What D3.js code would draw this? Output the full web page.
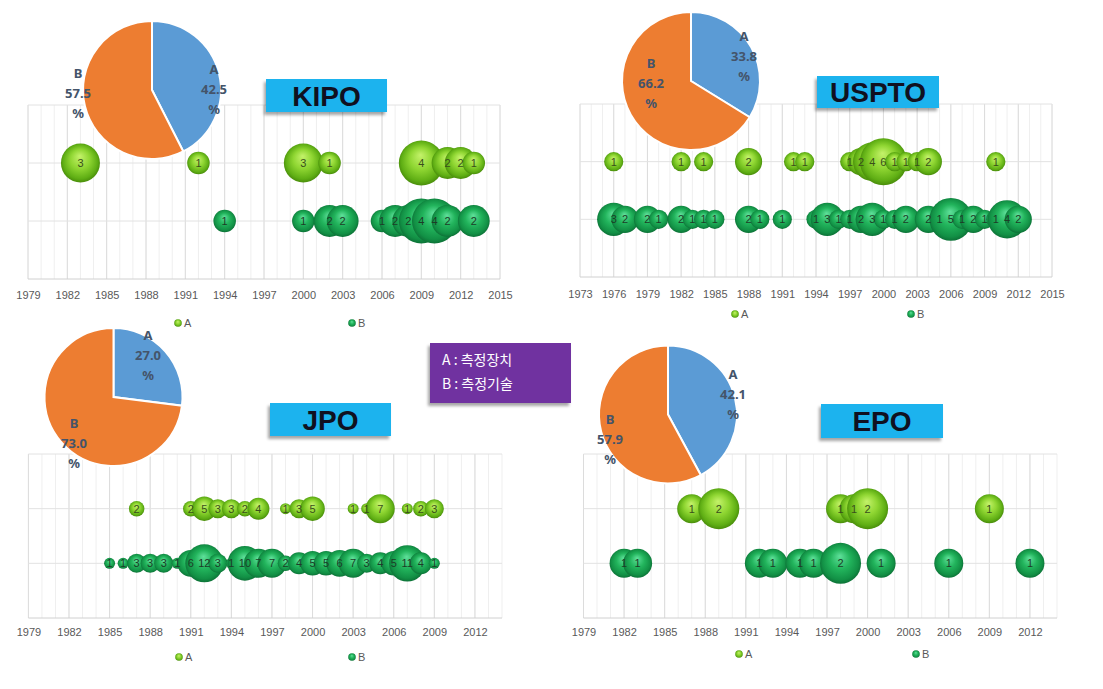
<!DOCTYPE html>
<html>
<head>
<meta charset="utf-8">
<script src="https://cdn.jsdelivr.net/npm/d3@7"></script>
<style>
  body { margin: 0; background: #fff; }
  svg { display: block; }
</style>
</head>
<body>
<script>
// office names and pie shares (%)
var offices = ["KIPO", "USPTO", "JPO", "EPO"];
var pieShareA = [42.5, 33.8, 27.0, 42.1];
var pieShareB = [57.5, 66.2, 73.0, 57.9];

// bubble data: years and counts per series
var kipoYearsA = [1983, 1992, 2000, 2002, 2009, 2011, 2012, 2013];
var kipoValuesA = [3, 1, 3, 1, 4, 2, 2, 1];
var kipoYearsB = [1994, 2000, 2002, 2003, 2006, 2007, 2008, 2009, 2010, 2011, 2013];
var kipoValuesB = [1, 1, 2, 2, 1, 2, 2, 4, 4, 2, 2];

var usptoYearsA = [1976, 1982, 1984, 1988, 1992, 1993, 1997, 1998, 1999, 2000, 2001, 2002, 2003, 2004, 2010];
var usptoValuesA = [1, 1, 1, 2, 1, 1, 1, 2, 4, 6, 1, 1, 1, 2, 1];
var usptoYearsB = [1976, 1977, 1979, 1980, 1982, 1983, 1984, 1985, 1988, 1989, 1991, 1994, 1995, 1996, 1997,
                   1998, 1999, 2000, 2001, 2002, 2004, 2005, 2006, 2007, 2008, 2009, 2010, 2011, 2012];
var usptoValuesB = [3, 2, 2, 1, 2, 1, 1, 1, 2, 1, 1, 1, 3, 1, 1, 2, 3, 1, 1, 2, 2, 1, 5, 1, 2, 1, 1, 4, 2];

var jpoYearsA = [1987, 1991, 1992, 1993, 1994, 1995, 1996, 1998, 1999, 2000, 2003, 2004, 2005, 2007, 2008, 2009];
var jpoValuesA = [2, 2, 5, 3, 3, 2, 4, 1, 3, 5, 1, 1, 7, 1, 2, 3];
var jpoYearsB = [1985, 1986, 1987, 1988, 1989, 1990, 1991, 1992, 1993, 1994, 1995, 1996, 1997,
                 1998, 1999, 2000, 2001, 2002, 2003, 2004, 2005, 2006, 2007, 2008, 2009];
var jpoValuesB = [1, 1, 3, 3, 3, 1, 6, 12, 3, 1, 10, 7, 7, 2, 4, 5, 5, 6, 7, 3, 4, 5, 11, 4, 1];

var epoYearsA = [1987, 1989, 1998, 1999, 2000, 2009];
var epoValuesA = [1, 2, 1, 1, 2, 1];
var epoYearsB = [1982, 1983, 1992, 1993, 1995, 1996, 1998, 2001, 2006, 2012];
var epoValuesB = [1, 1, 1, 1, 1, 1, 2, 1, 1, 1];

// x-axis tick labels
var ticks1979to2015 = [1979, 1982, 1985, 1988, 1991, 1994, 1997, 2000, 2003, 2006, 2009, 2012, 2015];
var ticks1973to2015 = [1973, 1976, 1979, 1982, 1985, 1988, 1991, 1994, 1997, 2000, 2003, 2006, 2009, 2012, 2015];
var ticks1979to2012 = [1979, 1982, 1985, 1988, 1991, 1994, 1997, 2000, 2003, 2006, 2009, 2012];

// layout of each panel
var panels = [
  { x0: 28, x1: 500, min: 1979, max: 2015, top: 105, bottom: 279, tickY: 297, legY: 323, legA: 178, legB: 352, rmax: 22.5,
    ticks: ticks1979to2015, yearsA: kipoYearsA, valsA: kipoValuesA, yearsB: kipoYearsB, valsB: kipoValuesB,
    pie: [152, 90], labA: [62, -1], labB: [-74, 3], box: [266, 79, 121, 33] },
  { x0: 580, x1: 1052, min: 1973, max: 2015, top: 104, bottom: 277, tickY: 296, legY: 314, legA: 735, legB: 911, rmax: 23.5,
    ticks: ticks1973to2015, yearsA: usptoYearsA, valsA: usptoValuesA, yearsB: usptoYearsB, valsB: usptoValuesB,
    pie: [691, 81], labA: [53, -25], labB: [-40, 2], box: [817, 76, 122, 32] },
  { x0: 28.4, x1: 502, min: 1979, max: 2014, top: 454, bottom: 618, tickY: 634, legY: 657, legA: 179, legB: 352, rmax: 19,
    ticks: ticks1979to2012, yearsA: jpoYearsA, valsA: jpoValuesA, yearsB: jpoYearsB, valsB: jpoValuesB,
    pie: [113.5, 397], labA: [34.5, -42], labB: [-39.5, 46], box: [270, 403, 121, 33] },
  { x0: 583.5, x1: 1057, min: 1979, max: 2014, top: 454, bottom: 618, tickY: 634, legY: 654, legA: 739, legB: 916, rmax: 20.5,
    ticks: ticks1979to2012, yearsA: epoYearsA, valsA: epoValuesA, yearsB: epoYearsB, valsB: epoValuesB,
    pie: [668, 414.5], labA: [65, -20.5], labB: [-58, 24.5], box: [821, 404, 122, 34] }
];

var svg = d3.select("body").append("svg").attr("width", 1103).attr("height", 689);
svg.append("rect").attr("width", 1103).attr("height", 689).attr("fill", "#fff");

var defs = svg.append("defs");
function bubbleGrad(id, stops) {
  var g = defs.append("radialGradient").attr("id", id)
    .attr("cx", "50%").attr("cy", "50%").attr("r", "55%").attr("fx", "48%").attr("fy", "32%");
  stops.forEach(function(s) {
    g.append("stop").attr("offset", s[0]).attr("stop-color", s[1]);
  });
}
bubbleGrad("gradA", [[0, "#c4f26a"], [0.45, "#8fd632"], [0.8, "#5fae14"], [1, "#3f7d06"]]);
bubbleGrad("gradB", [[0, "#5fe09a"], [0.45, "#22b45c"], [0.8, "#129045"], [1, "#0a6330"]]);

var shadow = defs.append("filter").attr("id", "shadow").attr("x", "-20%").attr("y", "-20%").attr("width", "140%").attr("height", "150%");
shadow.append("feDropShadow").attr("dx", -2).attr("dy", 3).attr("stdDeviation", 1.8)
  .attr("flood-color", "#000").attr("flood-opacity", 0.35);

var pie = d3.pie().sort(null).value(function(d) { return d; });
var arc = d3.arc().innerRadius(0).outerRadius(69);

panels.forEach(function(p, i) {
  var g = svg.append("g");
  var x = d3.scaleLinear().domain([p.min, p.max]).range([p.x0, p.x1]);
  var y = d3.scaleLinear().domain([0, 3]).range([p.bottom, p.top]);
  var maxV = d3.max(p.valsA.concat(p.valsB));
  var r = d3.scaleSqrt().domain([0, maxV]).range([0, p.rmax]);

  // minor + major vertical grid
  g.selectAll(".minor").data(d3.range(p.min, p.max + 1)).enter().append("line")
    .attr("x1", function(d) { return x(d); }).attr("x2", function(d) { return x(d); })
    .attr("y1", p.top).attr("y2", p.bottom)
    .attr("stroke", "#efefef").attr("stroke-width", 1);
  g.selectAll(".major").data(d3.range(p.min, p.max + 1, 3)).enter().append("line")
    .attr("x1", function(d) { return x(d); }).attr("x2", function(d) { return x(d); })
    .attr("y1", p.top).attr("y2", p.bottom)
    .attr("stroke", "#dcdcdc").attr("stroke-width", 1);
  g.selectAll(".hgrid").data([0, 1, 2, 3]).enter().append("line")
    .attr("x1", p.x0).attr("x2", p.x1)
    .attr("y1", function(d) { return y(d); }).attr("y2", function(d) { return y(d); })
    .attr("stroke", function(d) { return d === 0 ? "#d0d0d0" : "#e2e2e2"; }).attr("stroke-width", 1);

  // x axis labels
  var axis = d3.axisBottom(x).tickValues(p.ticks).tickFormat(d3.format("d")).tickSize(0);
  var ax = g.append("g").attr("transform", "translate(0," + (p.tickY - 9) + ")").call(axis);
  ax.select(".domain").remove();
  ax.selectAll("text").attr("fill", "#595959").style("font-family", "Liberation Sans, Arial, sans-serif").style("font-size", "11px");

  // bubbles
  var dataA = p.yearsA.map(function(yr, k) { return { year: yr, v: p.valsA[k], s: 2 }; });
  var dataB = p.yearsB.map(function(yr, k) { return { year: yr, v: p.valsB[k], s: 1 }; });
  var all = dataB.concat(dataA);
  g.selectAll(".bub").data(all).enter().append("circle")
    .attr("cx", function(d) { return x(d.year); })
    .attr("cy", function(d) { return y(d.s); })
    .attr("r", function(d) { return r(d.v); })
    .attr("fill", function(d) { return d.s === 2 ? "url(#gradA)" : "url(#gradB)"; });
  g.selectAll(".blab").data(all).enter().append("text")
    .attr("x", function(d) { return x(d.year); })
    .attr("y", function(d) { return y(d.s) + 4; })
    .attr("text-anchor", "middle")
    .attr("fill", function(d) { return d.s === 2 ? "#3a4f1c" : "#1d3d28"; })
    .style("font-family", "Liberation Sans, Arial, sans-serif").style("font-size", "11px")
    .text(function(d) { return d.v; });

  // legend
  [["A", p.legA, "url(#gradA)"], ["B", p.legB, "url(#gradB)"]].forEach(function(l) {
    g.append("circle").attr("cx", l[1]).attr("cy", p.legY).attr("r", 3.8).attr("fill", l[2]);
    g.append("text").attr("x", l[1] + 6).attr("y", p.legY + 4).attr("fill", "#595959")
      .style("font-family", "Liberation Sans, Arial, sans-serif").style("font-size", "11px").text(l[0]);
  });

  // pie
  var pg = g.append("g").attr("transform", "translate(" + p.pie[0] + "," + p.pie[1] + ")");
  pg.selectAll("path").data(pie([pieShareA[i], pieShareB[i]])).enter().append("path")
    .attr("d", arc)
    .attr("fill", function(d, k) { return k === 0 ? "#5b9bd5" : "#ed7d31"; })
    .attr("stroke", "#fff").attr("stroke-width", 2);
  [["A", pieShareA[i], p.labA], ["B", pieShareB[i], p.labB]].forEach(function(l) {
    var t = pg.append("text").attr("text-anchor", "middle").attr("fill", "#44546a")
      .style("font-family", "Noto Sans, Liberation Sans, sans-serif").style("font-size", "13px").style("font-weight", "bold");
    [l[0], l[1].toFixed(1), "%"].forEach(function(s, k) {
      t.append("tspan").attr("x", l[2][0]).attr("y", l[2][1] + (k - 1) * 20 + 5).text(s);
    });
  });

  // office title box
  g.append("rect").attr("x", p.box[0]).attr("y", p.box[1]).attr("width", p.box[2]).attr("height", p.box[3])
    .attr("fill", "#1db3ee").attr("filter", "url(#shadow)");
  g.append("text").attr("x", p.box[0] + p.box[2] / 2).attr("y", p.box[1] + p.box[3] / 2 + 10)
    .attr("text-anchor", "middle").attr("fill", "#101020")
    .style("font-family", "Liberation Sans, Arial, sans-serif").style("font-size", "28px").style("font-weight", "bold")
    .text(offices[i]);
});

// category key box
svg.append("rect").attr("x", 430).attr("y", 343).attr("width", 141).attr("height", 60)
  .attr("fill", "#7030a0").attr("filter", "url(#shadow)");
svg.append("text").attr("x", 442).attr("y", 365).attr("fill", "#fff")
  .style("font-family", "Noto Sans CJK KR, sans-serif").style("font-size", "14px").text("A : 측정장치");
svg.append("text").attr("x", 442).attr("y", 389).attr("fill", "#fff")
  .style("font-family", "Noto Sans CJK KR, sans-serif").style("font-size", "14px").text("B : 측정기술");
</script>
</body>
</html>
